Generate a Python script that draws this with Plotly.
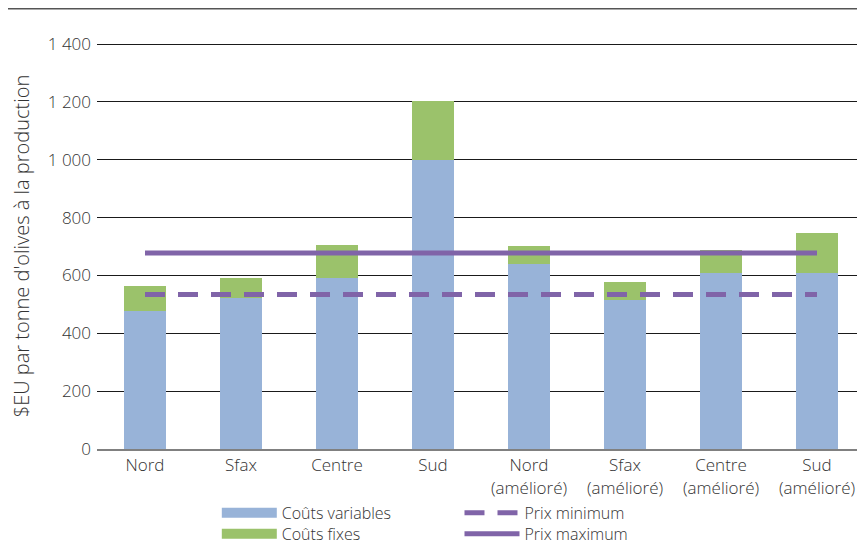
import plotly.graph_objects as go

categories = ["Nord", "Sfax", "Centre", "Sud",
              "Nord<br>(amélioré)", "Sfax<br>(amélioré)", "Centre<br>(amélioré)", "Sud<br>(amélioré)"]
couts_variables = [477, 523, 593, 1000, 641, 515, 607, 607]
couts_fixes = [88, 70, 112, 205, 60, 63, 80, 140]
prix_minimum = [534] * 8
prix_maximum = [678] * 8
y_ticks = [0, 200, 400, 600, 800, 1000, 1200, 1400]
y_tick_labels = ["0", "200", "400", "600", "800", "1 000", "1 200", "1 400"]

BLUE = "#98B3D8"
GREEN = "#9BC26B"
PURPLE = "#8064A8"
FONT = "Open Sans"
TXT = "#333333"

fig = go.Figure()
fig.add_trace(go.Bar(x=categories, y=couts_variables, marker=dict(color=BLUE, line=dict(width=0)),
                     showlegend=False, name="Coûts variables"))
fig.add_trace(go.Bar(x=categories, y=couts_fixes, marker=dict(color=GREEN, line=dict(width=0)),
                     showlegend=False, name="Coûts fixes"))
fig.add_trace(go.Scatter(x=categories, y=prix_minimum, mode="lines",
                         line=dict(color=PURPLE, width=5, dash="20px,13px"),
                         showlegend=False, name="Prix minimum"))
fig.add_trace(go.Scatter(x=categories, y=prix_maximum, mode="lines",
                         line=dict(color=PURPLE, width=5),
                         showlegend=False, name="Prix maximum"))

# legend entries (one legend per entry for exact placement)
fig.add_trace(go.Scatter(x=[None], y=[None], mode="lines", line=dict(color=BLUE, width=10),
                         name="Coûts variables", legend="legend"))
fig.add_trace(go.Scatter(x=[None], y=[None], mode="lines", line=dict(color=GREEN, width=10),
                         name="Coûts fixes", legend="legend2"))
fig.add_trace(go.Scatter(x=[None], y=[None], mode="lines", line=dict(color=PURPLE, width=5, dash="20px,13px"),
                         name="Prix minimum", legend="legend3"))
fig.add_trace(go.Scatter(x=[None], y=[None], mode="lines", line=dict(color=PURPLE, width=5),
                         name="Prix maximum", legend="legend4"))

leg_common = dict(yanchor="middle", xanchor="left", orientation="v", itemwidth=55,
                  tracegroupgap=0, traceorder="normal",
                  font=dict(size=16, color=TXT, family=FONT, weight=300), bgcolor="rgba(0,0,0,0)")

# plot area: 768 x 406 px, page body offsets the figure by 8px
fig.update_layout(
    width=865, height=552,
    margin=dict(l=89, r=8, t=35, b=111, autoexpand=False),
    paper_bgcolor="white", plot_bgcolor="white",
    barmode="stack", bargap=0.56,
    font=dict(family=FONT, size=17, color=TXT, weight=300),
    legend=dict(x=0.156, y=-0.157, **leg_common),
    legend2=dict(x=0.156, y=-0.209, **leg_common),
    legend3=dict(x=0.472, y=-0.157, **leg_common),
    legend4=dict(x=0.472, y=-0.209, **leg_common),
    xaxis=dict(showgrid=False, showline=True, linecolor="#808080", linewidth=2,
               ticks="", tickfont=dict(size=17, color=TXT), fixedrange=True, automargin=False),
    yaxis=dict(range=[0, 1404], tickvals=y_ticks, ticktext=y_tick_labels,
               showgrid=True, gridcolor="#1a1a1a", gridwidth=1, zeroline=False,
               ticks="", ticklabelstandoff=5, automargin=False,
               tickfont=dict(size=17, color=TXT),
               title=dict(text="$EU par tonne d'olives à la production",
                          font=dict(size=20, color=TXT), standoff=25)),
    shapes=[dict(type="line", xref="paper", yref="paper", x0=-89/768, x1=1.02,
                 y0=(441 - 0.75) / 406, y1=(441 - 0.75) / 406, line=dict(color="#555555", width=1.5))],
)

fig.write_html("out.html")
